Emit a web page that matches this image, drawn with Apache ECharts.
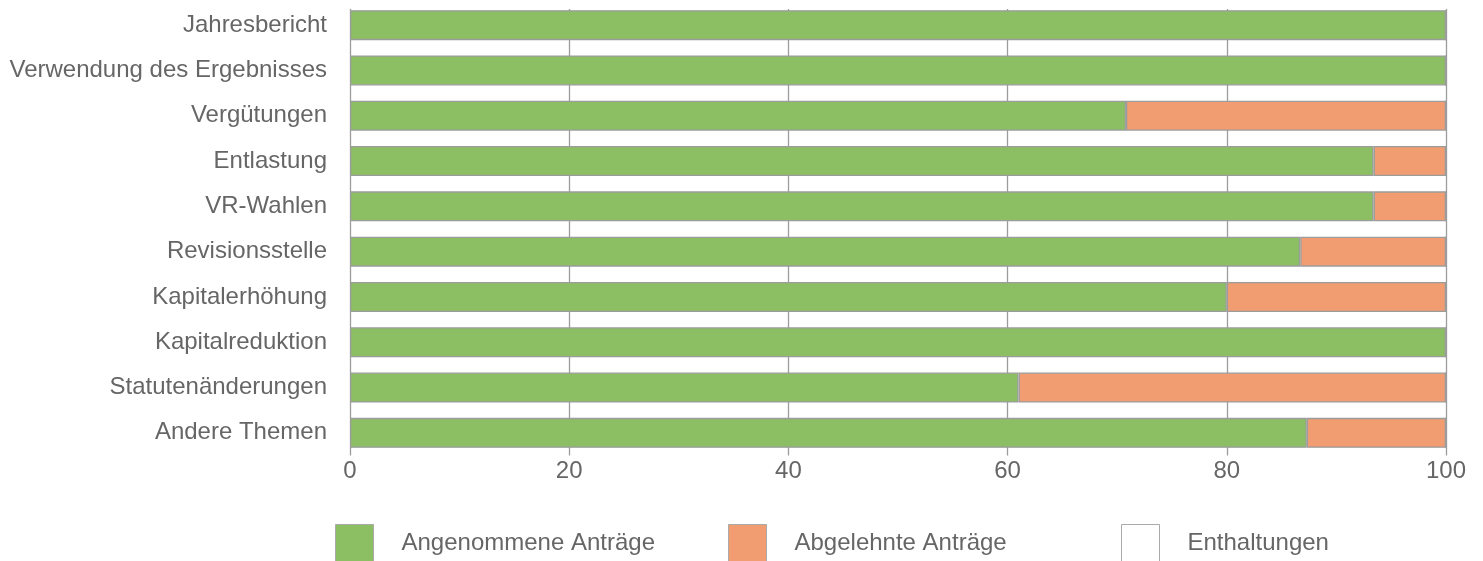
<!DOCTYPE html>
<html><head><meta charset="utf-8">
<script src="https://cdn.jsdelivr.net/npm/echarts@6/dist/echarts.min.js"></script>
<style>html,body{margin:0;padding:0;background:#fff}#c{width:1483px;height:561px}</style>
</head><body><div id="c"></div>
<script>
const categories = ["Jahresbericht","Verwendung des Ergebnisses","Vergütungen","Entlastung","VR-Wahlen","Revisionsstelle","Kapitalerhöhung","Kapitalreduktion","Statutenänderungen","Andere Themen"];
const angenommen = [100,100,70.8,93.4,93.4,86.7,80.0,100,61.0,87.3];
const abgelehnt  = [0,0,29.2,6.6,6.6,13.3,20.0,0,39.0,12.7];
const enthaltungen = [0,0,0,0,0,0,0,0,0,0];
const xTicks = [0,20,40,60,80,100];
const seriesNames = ["Angenommene Anträge","Abgelehnte Anträge","Enthaltungen"];

const font = "'Liberation Sans', Arial, sans-serif";
const chart = echarts.init(document.getElementById('c'));
const colors = ['#8cbf64','#f19d71','#ffffff'];
const legendLefts = [335,728,1121];
const border = '#9c9c9c';
chart.setOption({
  animation:false,
  textStyle:{fontFamily:font},
  grid:[
    {left:350,right:37,top:2.5,bottom:105.5,containLabel:false},
    {left:350,right:37,top:9,bottom:105.5,containLabel:false}
  ],
  legend: seriesNames.map((n,i)=>({
    data:[n], left:legendLefts[i], top:524, padding:0, itemWidth:38, itemHeight:38, itemGap:0,
    icon:'rect', textStyle:{fontSize:24,color:'#666',fontFamily:font,padding:[0,0,0,23]},
    itemStyle:{borderColor:'#aaa',borderWidth:1}
  })),
  xAxis:[
    {type:'value',gridIndex:0,min:xTicks[0],max:xTicks[xTicks.length-1],interval:20,
     axisLine:{show:false},axisTick:{show:false},
     axisLabel:{fontSize:24,color:'#666',margin:4,fontFamily:font},
     splitLine:{show:false}},
    {type:'value',gridIndex:1,min:xTicks[0],max:xTicks[xTicks.length-1],interval:20,
     axisLine:{show:false},axisTick:{show:false},axisLabel:{show:false},
     splitLine:{show:true,lineStyle:{color:border,width:1.3}}}
  ],
  yAxis:[
    {type:'category',gridIndex:0,data:categories,inverse:true,
     axisLine:{show:false},axisTick:{show:false},
     axisLabel:{fontSize:24,color:'#666',margin:23,fontFamily:font},
     splitLine:{show:false}},
    {type:'value',gridIndex:1,show:false,splitLine:{show:false}}
  ],
  series:[
    {name:seriesNames[0],type:'bar',stack:'s',data:angenommen,barWidth:30,z:1,
     itemStyle:{color:colors[0],borderColor:border,borderWidth:1.3}},
    {name:seriesNames[1],type:'bar',stack:'s',data:abgelehnt,barWidth:30,z:1,
     itemStyle:{color:colors[1],borderColor:border,borderWidth:1.3}},
    {name:seriesNames[2],type:'bar',stack:'s',data:enthaltungen,barWidth:30,z:1,
     itemStyle:{color:colors[2],borderColor:border,borderWidth:1.3}}
  ]
});
</script></body></html>
